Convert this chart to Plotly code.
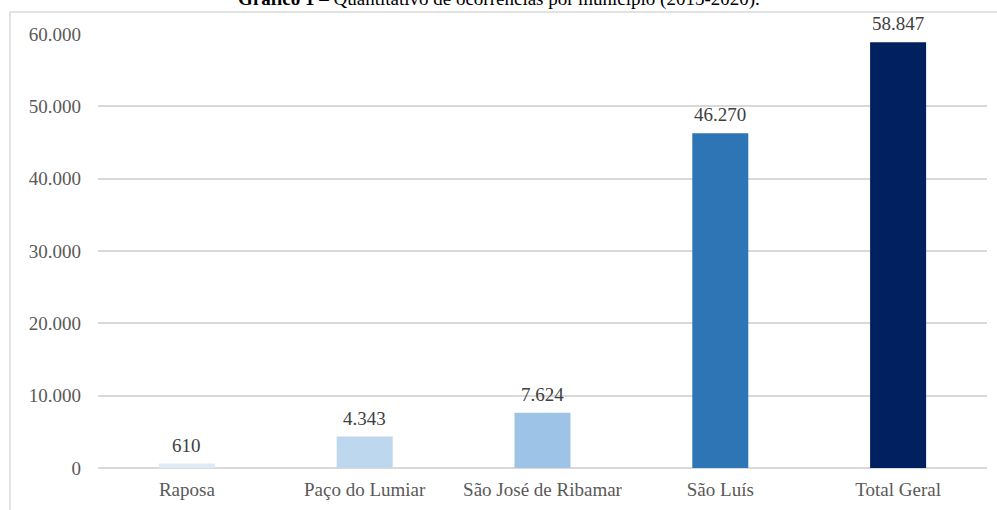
import plotly.graph_objects as go

categories = ["Raposa", "Paço do Lumiar", "São José de Ribamar", "São Luís", "Total Geral"]
values = [610, 4343, 7624, 46270, 58847]
labels = ["610", "4.343", "7.624", "46.270", "58.847"]
colors = ["#DEEBF7", "#BDD7EE", "#9DC3E6", "#2E75B6", "#002060"]
tick_vals = [0, 10000, 20000, 30000, 40000, 50000, 60000]
tick_text = ["0", "10.000", "20.000", "30.000", "40.000", "50.000", "60.000"]
title_text = "<b>Gráfico 1</b> – Quantitativo de ocorrências por município (2015-2020)."

W, H = 997, 510
L, R, T, B = 98, 10, 34, 42
pw, ph = W - L - R, H - T - B

def px_x(x):
    return (x - L) / pw

def px_y(y):
    return (H - B - y) / ph

font_family = "Liberation Serif, Times New Roman, serif"

fig = go.Figure()
fig.add_trace(go.Bar(
    x=categories, y=values, marker=dict(color=colors, line=dict(width=0)),
    width=0.315, hoverinfo="skip",
))

for c, v, t in zip(categories, values, labels):
    fig.add_annotation(x=c, y=v, text=t, showarrow=False, yanchor="bottom",
                       yshift=6, font=dict(family=font_family, size=19, color="#404040"))

fig.add_annotation(xref="paper", yref="paper", x=px_x(499), y=px_y(12), text=title_text,
                   showarrow=False, xanchor="center", yanchor="bottom",
                   font=dict(family=font_family, size=19, color="#000000"))

fig.add_shape(type="rect", xref="paper", yref="paper",
              x0=px_x(10), x1=px_x(1005), y0=px_y(520), y1=px_y(12),
              line=dict(color="#D9D9D9", width=1.5), fillcolor="rgba(0,0,0,0)", layer="below")

fig.update_layout(
    width=W, height=H, margin=dict(l=L, r=R, t=T, b=B),
    paper_bgcolor="white", plot_bgcolor="white", showlegend=False,
    font=dict(family=font_family, size=19, color="#595959"),
    xaxis=dict(showgrid=False, showline=False, ticks="", tickfont=dict(size=19, color="#595959"),
               ticklabelstandoff=8, fixedrange=True),
    yaxis=dict(range=[0, 60000], tickvals=tick_vals, ticktext=tick_text, showgrid=True,
               gridcolor="#D9D9D9", gridwidth=1.5, zeroline=True, zerolinecolor="#D9D9D9",
               zerolinewidth=1.5, showline=False, ticks="", ticklabelstandoff=16,
               tickfont=dict(size=19, color="#595959"), fixedrange=True),
)

fig.write_html("out.html")
